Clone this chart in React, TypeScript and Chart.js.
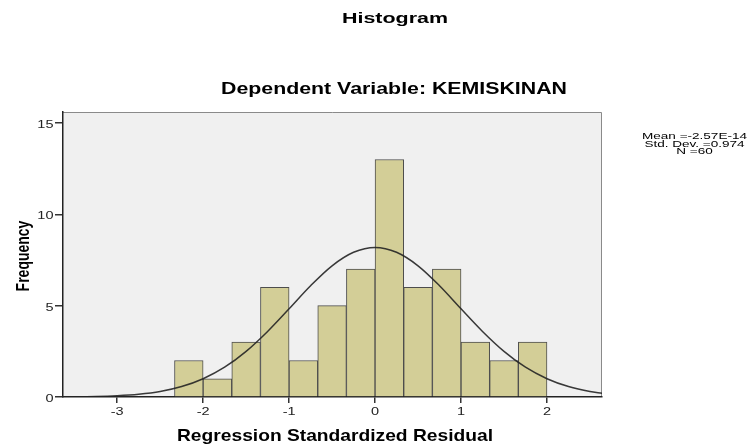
import { useEffect, useRef } from "react";
import { Chart, registerables } from "chart.js";
Chart.register(...registerables);

const mainTitle = "Histogram";
const subTitle = "Dependent Variable: KEMISKINAN";
const xAxisTitle = "Regression Standardized Residual";
const yAxisTitle = "Frequency";
const binEdges = [-2.333, -2.0, -1.667, -1.333, -1.0, -0.667, -0.333, 0.0, 0.333, 0.667, 1.0, 1.333, 1.667, 2.0];
const frequencies = [2, 1, 3, 6, 2, 5, 7, 13, 6, 7, 3, 2, 3];
const curveX = [-3.63, -3.25, -3.0, -2.75, -2.5, -2.25, -2.0, -1.75, -1.5, -1.25, -1.0, -0.75, -0.5, -0.25, 0, 0.25, 0.5, 0.75, 1.0, 1.25, 1.5, 1.75, 2.0, 2.25, 2.5, 2.64];
const curveY = [0.01, 0.03, 0.07, 0.15, 0.3, 0.57, 1.0, 1.63, 2.5, 3.59, 4.83, 6.09, 7.18, 7.92, 8.19, 7.92, 7.18, 6.09, 4.83, 3.59, 2.5, 1.63, 1.0, 0.57, 0.3, 0.21];
const xTicks = [-3, -2, -1, 0, 1, 2];
const xTickLabels = ["-3", "-2", "-1", "0", "1", "2"];
const yTicks = [0, 5, 10, 15];
const yTickLabels = ["0", "5", "10", "15"];
const statsLines = ["Mean =-2.57E-14", "Std. Dev. =0.974", "N =60"];

const FONT = "'Liberation Sans', Arial, sans-serif";
const W = 751;
const H = 445;

function drawStretched(ctx: CanvasRenderingContext2D, text: string, x: number, y: number, font: string, sx: number, align: CanvasTextAlign, baseline: CanvasTextBaseline) {
  ctx.save();
  ctx.font = font;
  ctx.textAlign = align;
  ctx.textBaseline = baseline;
  ctx.translate(x, y);
  ctx.scale(sx, 1);
  ctx.fillText(text, 0, 0);
  ctx.restore();
}

function drawToWidth(ctx: CanvasRenderingContext2D, text: string, cx: number, baseY: number, font: string, width: number) {
  ctx.save();
  ctx.font = font;
  const w = ctx.measureText(text).width;
  ctx.restore();
  drawStretched(ctx, text, cx, baseY, font, width / w, "center", "alphabetic");
}

export default function App() {
  const ref = useRef<HTMLCanvasElement | null>(null);
  useEffect(() => {
    if (!ref.current) return;
    const barData = frequencies.map((f, i) => ({ x: (binEdges[i] + binEdges[i + 1]) / 2, y: f }));
    const lineData = curveX.map((x, i) => ({ x, y: curveY[i] }));

    const decor = {
      id: "decor",
      beforeDraw(chart: any) {
        const { ctx, chartArea: a } = chart;
        ctx.save();
        ctx.fillStyle = "#ffffff";
        ctx.fillRect(0, 0, W, H);
        ctx.fillStyle = "#f0f0f0";
        ctx.fillRect(a.left, a.top, a.right - a.left, a.bottom - a.top);
        ctx.strokeStyle = "#8a8a8a";
        ctx.lineWidth = 1;
        ctx.beginPath();
        ctx.moveTo(a.left, a.top + 0.5);
        ctx.lineTo(a.right - 0.5, a.top + 0.5);
        ctx.lineTo(a.right - 0.5, a.bottom);
        ctx.stroke();
        ctx.restore();
      },
      afterDraw(chart: any) {
        const { ctx, scales } = chart;
        ctx.save();
        ctx.fillStyle = "#000";
        drawToWidth(ctx, mainTitle, 395, 23, `bold 15px ${FONT}`, 106);
        drawToWidth(ctx, subTitle, 394, 93.5, `bold 17px ${FONT}`, 346);
        drawToWidth(ctx, xAxisTitle, 335, 441, `bold 17px ${FONT}`, 316);

        // rotated y-axis title
        ctx.save();
        ctx.font = `bold 14px ${FONT}`;
        ctx.textAlign = "center";
        ctx.textBaseline = "alphabetic";
        ctx.translate(28.5, 256);
        ctx.scale(1.3, 1);
        ctx.rotate(-Math.PI / 2);
        ctx.fillText(yAxisTitle, 0, 0);
        ctx.restore();

        // tick labels
        ctx.fillStyle = "#222";
        xTicks.forEach((v, i) => {
          drawStretched(ctx, xTickLabels[i], scales.x.getPixelForValue(v), 415, `10px ${FONT}`, 1.45, "center", "alphabetic");
        });
        yTicks.forEach((v, i) => {
          drawStretched(ctx, yTickLabels[i], 53.5, scales.y.getPixelForValue(v) + 5, `10px ${FONT}`, 1.45, "right", "alphabetic");
        });

        // stats box text
        ctx.fillStyle = "#000";
        const sFont = `8.5px ${FONT}`;
        ctx.font = sFont;
        const sx = 105 / ctx.measureText(statsLines[0]).width;
        statsLines.forEach((t, i) => drawStretched(ctx, t, 694.5, 139.3 + i * 7.4, sFont, sx, "center", "alphabetic"));
        ctx.restore();
      },
    };

    const chart = new Chart(ref.current, {
      type: "bar",
      data: {
        datasets: [
          {
            type: "line",
            data: lineData,
            borderColor: "rgba(35,35,35,0.9)",
            borderWidth: 1.5,
            pointRadius: 0,
            cubicInterpolationMode: "monotone",
            fill: false,
          } as any,
          {
            type: "bar",
            data: barData,
            backgroundColor: "#d3ce97",
            borderColor: "#4d4d4d",
            borderWidth: 1,
            barPercentage: 1,
            categoryPercentage: 1,
            grouped: false,
            order: 2,
          } as any,
        ],
      },
      options: {
        animation: false,
        responsive: false,
        maintainAspectRatio: false,
        events: [],
        layout: { padding: { top: 112, right: 149, left: 0, bottom: 0 } },
        plugins: { legend: { display: false }, tooltip: { enabled: false }, title: { display: false } },
        scales: {
          x: {
            type: "linear",
            min: -3.63,
            max: 2.64,
            offset: false,
            afterBuildTicks: (s: any) => { s.ticks = xTicks.map((v) => ({ value: v })); },
            afterFit: (s: any) => { s.height = 48; },
            ticks: { display: false },
            grid: { offset: false, drawOnChartArea: false, drawTicks: true, tickLength: 6, color: "#333", lineWidth: 1.5 },
            border: { display: true, color: "#222", width: 1.5 },
            title: { display: false },
          },
          y: {
            type: "linear",
            min: 0,
            max: 15.6,
            afterBuildTicks: (s: any) => { s.ticks = yTicks.map((v) => ({ value: v })); },
            afterFit: (s: any) => { s.width = 63; },
            ticks: { display: false },
            grid: { drawOnChartArea: false, drawTicks: true, tickLength: 8, color: "#333", lineWidth: 1.5 },
            border: { display: true, color: "#222", width: 1.5 },
            title: { display: false },
          },
        },
      },
      plugins: [decor],
    });
    return () => chart.destroy();
  }, []);
  return (
    <div style={{ position: "fixed", left: 0, top: 0, width: W, height: H }}>
      <canvas ref={ref} width={W} height={H} style={{ display: "block" }} />
    </div>
  );
}
